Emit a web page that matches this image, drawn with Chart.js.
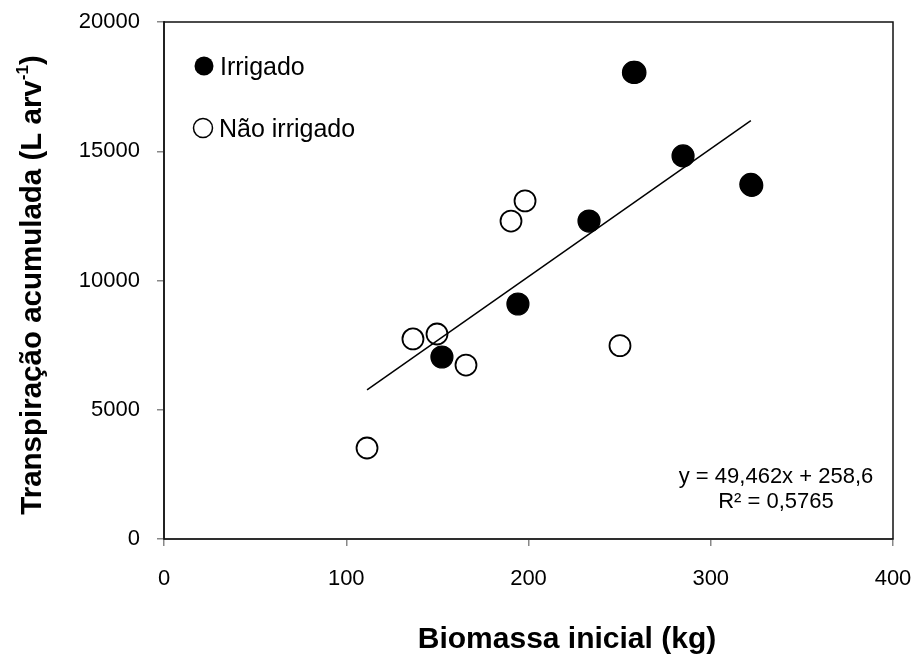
<!DOCTYPE html>
<html>
<head>
<meta charset="utf-8">
<script src="https://cdn.jsdelivr.net/npm/chart.js@4.4.1/dist/chart.umd.min.js"></script>
<style>
  html, body { margin: 0; padding: 0; background: #fff; }
  #wrap { width: 917px; height: 660px; position: relative; }
</style>
</head>
<body>
<div id="wrap"><canvas id="chart" width="917" height="660"></canvas></div>
<script>
  // irrigated trees (filled markers)
  const irrigadoX = [152.5, 194.2, 233.2, 257.6, 258.4, 284.8, 322.0, 322.5];
  const irrigadoY = [7040, 9090, 12300, 18050, 18050, 14820, 13720, 13680];

  // non-irrigated trees (open markers)
  const naoIrrigadoX = [111.4, 136.6, 149.8, 165.7, 190.4, 198.1, 250.2];
  const naoIrrigadoY = [3520, 7740, 7930, 6730, 12300, 13080, 7480];

  // fitted line, as printed on the plot
  const trendSlope = 49.462;
  const trendIntercept = 258.6;
  const trendX = [111.4, 322.0];
  const trendLabel = ["y = 49,462x + 258,6", "R\u00b2 = 0,5765"];

  const xTicks = [0, 100, 200, 300, 400];
  const yTicks = [0, 5000, 10000, 15000, 20000];

  const legendLabels = ["Irrigado", "N\u00e3o irrigado"];
  const xTitle = "Biomassa inicial (kg)";
  const yTitle = ["Transpira\u00e7\u00e3o acumulada (L arv", "-1", ")"];

  const FONT = "'Liberation Sans', Arial, sans-serif";

  function toPoints(xs, ys){
    return xs.map((x, i) => ({ x, y: ys[i] }));
  }

  const trendPts = trendX.map(x => ({ x, y: trendSlope * x + trendIntercept }));

  // frame, legend, equation and axis titles
  const extras = {
    id: "extras",
    afterDraw(chart){
      const ctx = chart.ctx;
      const a = chart.chartArea;
      ctx.save();

      // black plot frame
      ctx.strokeStyle = "#111";
      ctx.lineWidth = 1.5;
      ctx.strokeRect(a.left, a.top, a.right - a.left, a.bottom - a.top);

      // legend
      ctx.fillStyle = "#000";
      ctx.strokeStyle = "#000";
      ctx.lineWidth = 1.5;
      ctx.beginPath();
      ctx.arc(204, 66, 9.5, 0, Math.PI * 2);
      ctx.fill();
      ctx.beginPath();
      ctx.arc(203, 128, 9.5, 0, Math.PI * 2);
      ctx.stroke();

      ctx.font = "25px " + FONT;
      ctx.textAlign = "left";
      ctx.textBaseline = "middle";
      ctx.fillText(legendLabels[0], 220, 68);
      ctx.fillText(legendLabels[1], 219, 130);

      // regression equation
      ctx.font = "22px " + FONT;
      ctx.textAlign = "center";
      ctx.fillText(trendLabel[0], 776, 477);
      ctx.fillText(trendLabel[1], 776, 502);

      // x title
      ctx.font = "bold 30px " + FONT;
      ctx.textAlign = "center";
      ctx.fillText(xTitle, 567, 640);

      // y title with superscript
      ctx.translate(33, 285);
      ctx.rotate(-Math.PI / 2);
      ctx.font = "bold 29.5px " + FONT;
      const w0 = ctx.measureText(yTitle[0]).width;
      ctx.font = "bold 17px " + FONT;
      const w1 = ctx.measureText(yTitle[1]).width;
      ctx.font = "bold 29.5px " + FONT;
      const w2 = ctx.measureText(yTitle[2]).width;
      let x = -(w0 + w1 + w2) / 2;
      ctx.textAlign = "left";
      ctx.fillText(yTitle[0], x, 0);
      x += w0;
      ctx.font = "bold 17px " + FONT;
      ctx.fillText(yTitle[1], x, -10);
      x += w1;
      ctx.font = "bold 29.5px " + FONT;
      ctx.fillText(yTitle[2], x, 0);

      ctx.restore();
    }
  };

  const ctx = document.getElementById("chart").getContext("2d");
  new Chart(ctx, {
    type: "scatter",
    data: {
      datasets: [
        {
          type: "line",
          label: "Linear",
          data: trendPts,
          borderColor: "#000",
          borderWidth: 1.5,
          pointRadius: 0,
          fill: false,
          order: -1
        },
        {
          label: legendLabels[0],
          data: toPoints(irrigadoX, irrigadoY),
          pointRadius: 11,
          pointBackgroundColor: "#000",
          pointBorderColor: "#000",
          pointBorderWidth: 1.2,
          order: 1
        },
        {
          label: legendLabels[1],
          data: toPoints(naoIrrigadoX, naoIrrigadoY),
          pointRadius: 10.5,
          pointBackgroundColor: "rgba(255,255,255,0)",
          pointBorderColor: "#000",
          pointBorderWidth: 1.8,
          order: 2
        }
      ]
    },
    options: {
      responsive: false,
      animation: false,
      events: [],
      layout: { padding: { left: 0, top: 22, right: 24, bottom: 0 } },
      plugins: {
        legend: { display: false },
        tooltip: { enabled: false }
      },
      scales: {
        x: {
          type: "linear",
          min: 0,
          max: 400,
          afterBuildTicks(scale){ scale.ticks = xTicks.map(v => ({ value: v })); },
          afterFit(scale){
            scale.height = 121;
            scale.paddingLeft = 0;
            scale.paddingRight = 0;
          },
          grid: { drawOnChartArea: false, drawTicks: true, tickLength: 7, color: "#888", lineWidth: 1.5 },
          border: { color: "#888", width: 2 },
          ticks: {
            color: "#000",
            font: { family: FONT, size: 22 },
            padding: 20,
            maxRotation: 0
          }
        },
        y: {
          type: "linear",
          min: 0,
          max: 20000,
          afterBuildTicks(scale){ scale.ticks = yTicks.map(v => ({ value: v })); },
          afterFit(scale){
            scale.width = 164;
            scale.paddingTop = 0;
            scale.paddingBottom = 0;
          },
          grid: { drawOnChartArea: false, drawTicks: true, tickLength: 7, color: "#888", lineWidth: 1.5 },
          border: { color: "#555", width: 2 },
          ticks: {
            color: "#000",
            font: { family: FONT, size: 22 },
            padding: 17,
            callback: v => String(v)
          }
        }
      }
    },
    plugins: [extras]
  });
</script>
</body>
</html>
